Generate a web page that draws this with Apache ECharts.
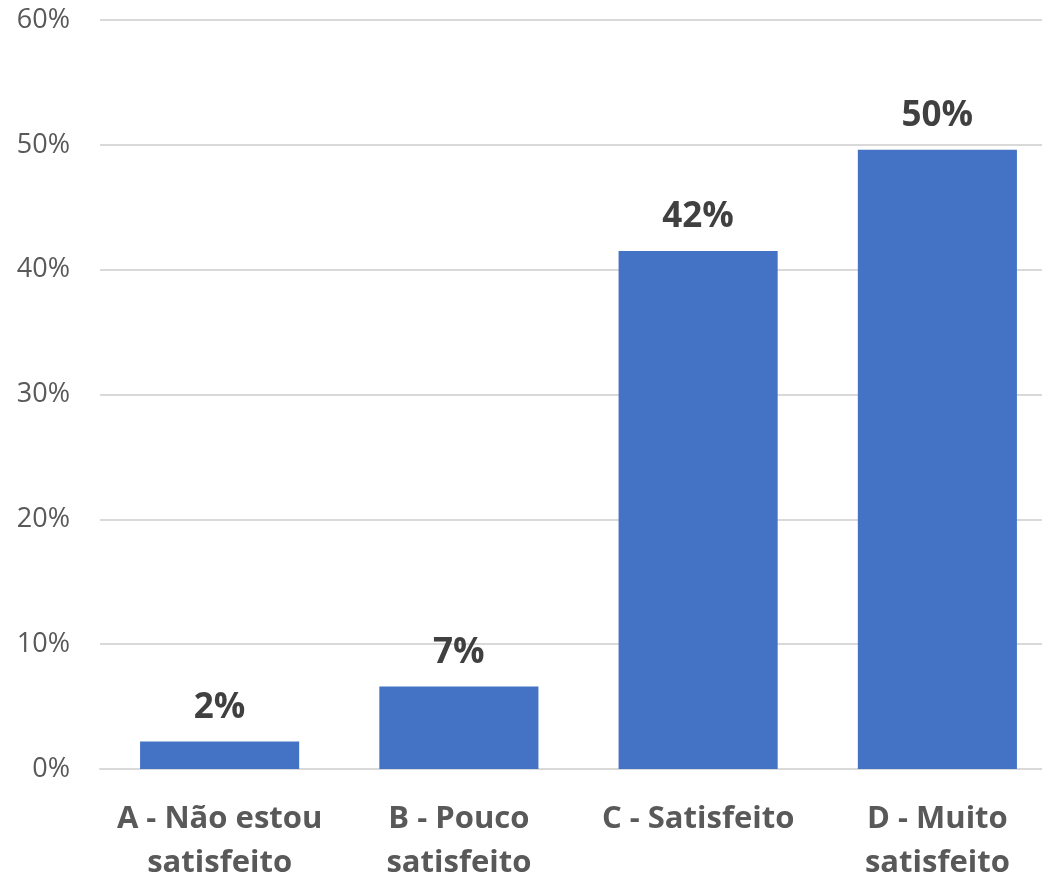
<!DOCTYPE html>
<html><head><meta charset="utf-8">
<script src="https://cdn.jsdelivr.net/npm/echarts@6/dist/echarts.min.js"></script>
<style>html,body{margin:0;padding:0;background:#fff}#c{width:1042px;height:878px}</style>
</head><body><div id="c"></div>
<script>
const categories = ['A - Não estou\nsatisfeito', 'B - Pouco\nsatisfeito', 'C - Satisfeito', 'D - Muito\nsatisfeito'];
const values = [2.2, 6.6, 41.5, 49.6];
const yTicks = [0, 10, 20, 30, 40, 50, 60];

const chart = echarts.init(document.getElementById('c'));
chart.setOption({
  animation: false,
  grid: { left: 100, right: -15, top: 20, bottom: 109, containLabel: false, outerBoundsMode: 'none' },
  xAxis: {
    type: 'category', data: categories,
    axisTick: { show: false },
    axisLine: { lineStyle: { color: '#d9d9d9', width: 2 } },
    axisLabel: { color: '#595959', fontFamily: 'Open Sans', fontWeight: 'bold', fontSize: 31, lineHeight: 44, margin: 28, interval: 0 }
  },
  yAxis: {
    type: 'value', min: yTicks[0], max: yTicks[yTicks.length - 1], interval: 10,
    axisLine: { show: false }, axisTick: { show: false },
    splitLine: { lineStyle: { color: '#d9d9d9', width: 2 } },
    axisLabel: { color: '#595959', fontFamily: 'Open Sans', fontSize: 27, margin: 30, formatter: v => v + '%' }
  },
  series: [{
    type: 'bar', data: values, barWidth: '66.5%',
    itemStyle: { color: '#4472C4' },
    label: { show: true, position: 'top', distance: 16, color: '#404040', fontFamily: 'Open Sans', fontWeight: 'bold', fontSize: 35,
      formatter: p => Math.round(p.value) + '%' }
  }]
});
</script></body></html>
